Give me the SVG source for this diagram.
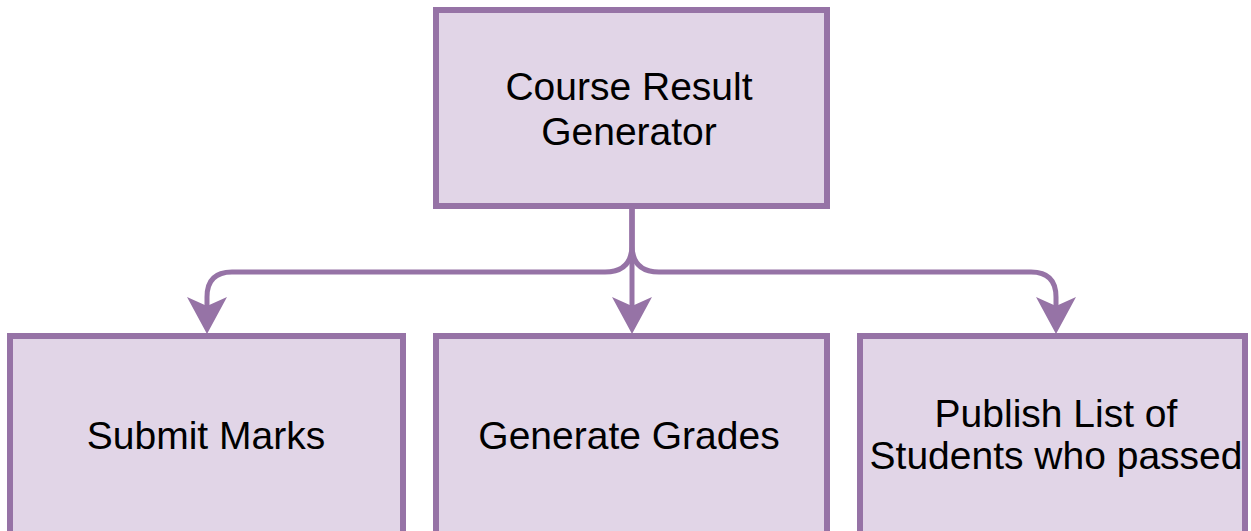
<svg xmlns="http://www.w3.org/2000/svg" width="1251" height="531" viewBox="0 0 1251 531">
<style>
.box{fill:#e1d5e7;stroke:#9673a6;stroke-width:6}
.lbl{font-family:"Liberation Sans",Arial,sans-serif;font-size:39px;fill:#000;text-anchor:middle}
.edge{fill:none;stroke:#9673a6;stroke-width:5}
.head{fill:#9673a6;stroke:none}
</style>
<rect width="1251" height="531" fill="#ffffff"/>
<g id="connectors">
<path class="edge" d="M632,208 V245 Q632,272 605,272 H232 Q207,272 207,297 V306"/>
<path class="edge" d="M632,208 V306"/>
<path class="edge" d="M632,208 V245 Q632,272 659,272 H1031 Q1056,272 1056,297 V306"/>
<path class="head" d="M207,334 L187,297 L207,306 L227,297 Z"/>
<path class="head" d="M632,334 L612,297 L632,306 L652,297 Z"/>
<path class="head" d="M1056,334 L1036,297 L1056,306 L1076,297 Z"/>
</g>
<g id="node-course-result-generator">
<rect class="box" x="436" y="10" width="391" height="196"/>
<text class="lbl" x="629" y="100">Course Result</text>
<text class="lbl" x="629" y="145">Generator</text>
</g>
<g id="node-submit-marks">
<rect class="box" x="10" y="336" width="393" height="220"/>
<text class="lbl" x="206" y="449">Submit Marks</text>
</g>
<g id="node-generate-grades">
<rect class="box" x="436" y="336" width="391" height="220"/>
<text class="lbl" x="629" y="449">Generate Grades</text>
</g>
<g id="node-publish-list">
<rect class="box" x="860" y="336" width="385" height="220"/>
<text class="lbl" x="1056" y="427">Publish List of</text>
<text class="lbl" x="1056" y="469">Students who passed</text>
</g>
</svg>
